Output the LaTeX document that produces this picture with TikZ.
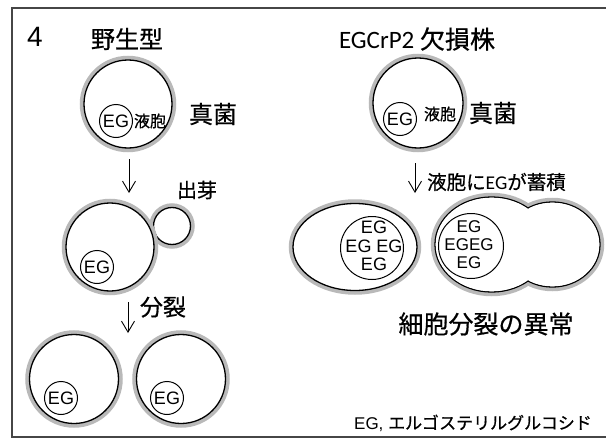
\documentclass[tikz,border=0pt]{standalone}
\usepackage{fontspec}
\setmainfont{Liberation Sans}
\newfontfamily\jpfont[FakeBold=0.6]{Noto Sans CJK JP}
\newfontfamily\calfont{Carlito}
\usetikzlibrary{arrows.meta,shapes.geometric}
\definecolor{wallgray}{RGB}{185,185,185}
\definecolor{framegray}{RGB}{70,70,70}
\newcommand{\fsz}[1]{\fontsize{#1}{#1}\selectfont}
\newcommand{\eg}{\makebox[0pt]{EG}}

\begin{document}
\begin{tikzpicture}[x=1pt,y=-1pt,
  wall/.style={draw=black, line width=1.3pt, fill=white, inner sep=0pt,
    preaction={draw=wallgray, line width=8.5pt}},
  cell/.style={wall, circle},
  vac/.style={circle, draw=black, line width=1pt, inner sep=0pt,
    minimum size=33pt, font=\fsz{18}},
  bigvac/.style={circle, draw=black, line width=1pt, inner sep=0pt},
  arr/.style={-{Straight Barb[length=11pt,width=13pt,line width=0.9pt]},
    line width=0.9pt},
  lbl/.style={inner sep=0pt},
]
\useasboundingbox (0,0) rectangle (606,439);

% open frame, cut on the right
\draw[framegray, line width=1.4pt] (606,8) -- (12,8) -- (12,437) -- (606,437);

% ---------- wild type ----------
\node[lbl, font=\fsz{28}] (num) at (35,37) {4};
\node[lbl, font=\jpfont\fsz{24}] (wt) at (127,39) {野生型};

\node[cell, minimum size=88pt] (wa) at (128,104) {};
\node[vac] (wav) at (116,121) {\eg};
\node[lbl, font=\jpfont\fsz{16}] (wavl) at (150,121) {液胞};
\node[lbl, font=\jpfont\fsz{24}] (fungusA) at (213,114) {真菌};

\coordinate (a1s) at (129,159);
\coordinate (a1e) at (129,193);
\draw[arr] (a1s) -- (a1e);

\node[lbl, font=\jpfont\fsz{20}] (budl) at (197,190) {出芽};
\node[cell, minimum size=37pt] (bud) at (172,226) {};
\node[cell, minimum size=88pt] (wb) at (110,247) {};
\node[vac] (wbv) at (97,267) {\eg};

\coordinate (a2s) at (128,302);
\coordinate (a2e) at (128,333);
\draw[arr] (a2s) -- (a2e);
\node[lbl, font=\jpfont\fsz{23}] (divl) at (163,307) {分裂};

\node[cell, minimum size=89pt] (wc) at (74,379) {};
\node[vac] (wcv) at (61,398) {\eg};
\node[cell, minimum size=89pt] (wd) at (181,379) {};
\node[vac] (wdv) at (167,398) {\eg};

% ---------- EGCrP2 mutant ----------
\node[lbl, font=\fsz{25}] (mt) at (417,39) {\calfont EGCrP2 \jpfont 欠損株};

\node[cell, minimum size=90pt] (ma) at (418,103) {};
\node[vac] (mav) at (400,119) {\eg};
\node[lbl, font=\jpfont\fsz{16}] (mavl) at (440,114) {液胞};
\node[lbl, font=\jpfont\fsz{24}] (fungusB) at (493,113) {真菌};

\coordinate (a3s) at (415,163);
\coordinate (a3e) at (415,193);
\draw[arr] (a3s) -- (a3e);
\node[lbl, anchor=west, font=\fsz{19.5}] (accl) at (427,182)
  {\jpfont 液胞に\calfont EG\jpfont が蓄積};

% elongated cell
\node[wall, ellipse, minimum width=124pt, minimum height=87pt] (mb) at (355,247) {};
\node[bigvac, minimum size=63pt] (mbv) at (372,248) {};
\node[lbl, align=center, font=\fontsize{18}{18.5}\selectfont] (mbt) at (374,246)
  {EG\\EG EG\\EG};

% cell that failed to separate: two merged lobes
\begin{scope}
  \draw[wallgray, line width=8.5pt] (491.7,244.5) ellipse [x radius=56.7, y radius=47.5];
  \draw[wallgray, line width=8.5pt] (552.4,244.5) ellipse [x radius=47.6, y radius=42.5];
  \draw[black, line width=1.3pt] (491.7,244.5) ellipse [x radius=56.7, y radius=47.5];
  \draw[black, line width=1.3pt] (552.4,244.5) ellipse [x radius=47.6, y radius=42.5];
  \fill[white] (491.7,244.5) ellipse [x radius=56.05, y radius=46.85];
  \fill[white] (552.4,244.5) ellipse [x radius=46.95, y radius=41.85];
\end{scope}
\node[bigvac, minimum size=65pt] (mcv) at (471,246) {};
\node[lbl, align=center, font=\fontsize{17}{18}\selectfont] (mct) at (469,245)
  {EG\\EGEG\\EG};

\node[lbl, font=\jpfont\fsz{25}] (abn) at (486,324) {細胞分裂の異常};
\node[lbl, font=\fsz{17}] (legend) at (473,423) {EG, \jpfont エルゴステリルグルコシド};
\end{tikzpicture}
\end{document}
